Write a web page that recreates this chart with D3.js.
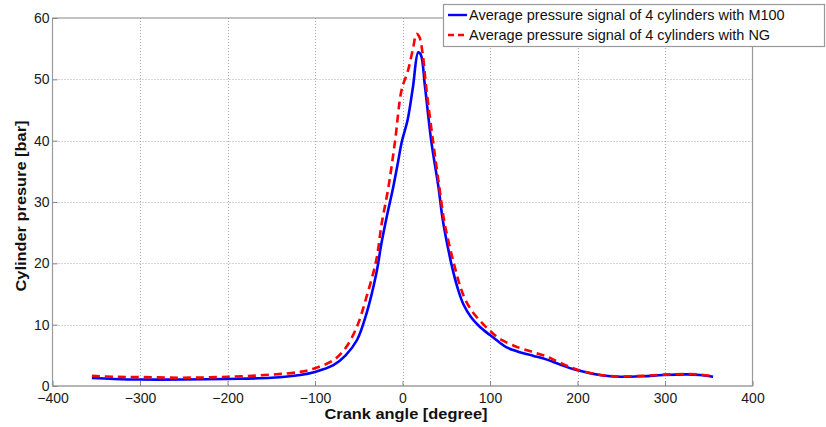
<!DOCTYPE html>
<html>
<head>
<meta charset="utf-8">
<script src="https://cdn.jsdelivr.net/npm/d3@7"></script>
<style>
  html, body { margin: 0; padding: 0; background: #fff; }
  svg { display: block; font-family: "Liberation Sans", Arial, sans-serif; }
</style>
</head>
<body>
<svg id="chart" width="826" height="427"></svg>
<script>
// ---- data ----
const xTicks = [-400, -300, -200, -100, 0, 100, 200, 300, 400];
const yTicks = [0, 10, 20, 30, 40, 50, 60];

const angleM100 = [-355, -330, -300, -250, -200, -150, -117, -100, -79, -65, -52, -41, -30, -24, -18, -10.5, -5, -1, 6, 12, 18, 21, 25.7, 33, 41, 46, 52, 58, 64, 70, 78, 88, 100, 111, 119, 134, 150, 165, 180, 199, 229, 249, 275, 298, 325, 340, 355];
const pressureM100 = [1.3, 1.15, 1.05, 1.05, 1.15, 1.35, 1.8, 2.3, 3.4, 5.0, 7.5, 11.9, 18.3, 23.3, 27.6, 32.5, 36.6, 39.7, 43.5, 48.8, 54.4, 54.0, 48.8, 39.8, 32.5, 27.1, 22.5, 18.6, 15.5, 13.2, 11.3, 9.7, 8.3, 7.1, 6.3, 5.5, 4.9, 4.3, 3.5, 2.6, 1.7, 1.5, 1.6, 1.8, 1.9, 1.8, 1.5];

const angleNG = [-355, -330, -300, -250, -200, -150, -117, -100, -79, -65, -52, -41, -30, -24, -16, -8.6, -1, 6, 12, 16, 19, 23, 27, 35, 42, 47.4, 53, 59, 65, 71, 79, 90, 100, 111, 134, 150, 165, 180, 199, 229, 249, 275, 298, 325, 340, 355];
const pressureNG = [1.65, 1.5, 1.45, 1.35, 1.5, 1.85, 2.3, 2.9, 4.2, 6.2, 9.7, 14.6, 20.5, 26.3, 32.5, 39.8, 48.3, 51.3, 55.0, 57.4, 57.0, 54.2, 48.8, 39.8, 32.5, 27.1, 23.3, 19.8, 16.7, 14.3, 12.3, 10.4, 9.0, 7.7, 6.2, 5.5, 4.8, 3.8, 2.7, 1.75, 1.55, 1.65, 1.85, 1.95, 1.85, 1.6];

const legendLabels = ["Average pressure signal of 4 cylinders with M100", "Average pressure signal of 4 cylinders with NG"];

// ---- layout ----
const svg = d3.select("#chart");
const L = 52.5, R = 752.5, T = 18, B = 386;
const x = d3.scaleLinear().domain([-400, 400]).range([L, R]);
const y = d3.scaleLinear().domain([0, 60]).range([B, T]);

// grid
const grid = svg.append("g");
grid.selectAll(".gx").data(xTicks.slice(1, -1)).enter().append("line")
  .attr("x1", d => Math.round(x(d)) + 0.5).attr("x2", d => Math.round(x(d)) + 0.5)
  .attr("y1", T).attr("y2", B)
  .attr("stroke", "#a8a8a8").attr("stroke-width", 1).attr("stroke-dasharray", "1,2");
grid.selectAll(".gy").data(yTicks.slice(1, -1)).enter().append("line")
  .attr("x1", L).attr("x2", R)
  .attr("y1", d => Math.round(y(d)) + 0.5).attr("y2", d => Math.round(y(d)) + 0.5)
  .attr("stroke", "#a8a8a8").attr("stroke-width", 1).attr("stroke-dasharray", "1,2");

// frame
svg.append("rect").attr("x", L).attr("y", T).attr("width", R - L).attr("height", B - T)
  .attr("fill", "none").attr("stroke", "#9a9a9a").attr("stroke-width", 1.2);
svg.append("line").attr("x1", L).attr("x2", R).attr("y1", B).attr("y2", B)
  .attr("stroke", "#b5b5b5").attr("stroke-width", 2);

// axes via d3
const xAxis = d3.axisBottom(x).tickValues(xTicks).tickSize(-5).tickPadding(7).tickFormat(d3.format("d"));
const gx = svg.append("g").attr("transform", `translate(0,${B})`).call(xAxis);
gx.select(".domain").remove();
gx.selectAll(".tick line").attr("stroke", "#888");
gx.selectAll(".tick text").attr("font-size", 14).attr("fill", "#1a1a1a")
  .attr("font-family", "Liberation Sans, Arial, sans-serif");

const yAxis = d3.axisLeft(y).tickValues(yTicks).tickSize(-5).tickPadding(3).tickFormat(d3.format("d"));
const gy = svg.append("g").attr("transform", `translate(${L},0)`).call(yAxis);
gy.select(".domain").remove();
gy.selectAll(".tick line").attr("stroke", "#888");
gy.selectAll(".tick text").attr("font-size", 14).attr("fill", "#1a1a1a")
  .attr("font-family", "Liberation Sans, Arial, sans-serif");

// axis titles
svg.append("text").attr("x", 406).attr("y", 419).attr("text-anchor", "middle")
  .attr("font-size", 14.5).attr("font-weight", "bold").attr("fill", "#111")
  .attr("textLength", 163).attr("lengthAdjust", "spacingAndGlyphs")
  .text("Crank angle [degree]");
svg.append("text").attr("transform", "translate(26,206) rotate(-90)").attr("text-anchor", "middle")
  .attr("font-size", 14.5).attr("font-weight", "bold").attr("fill", "#111")
  .attr("textLength", 171).attr("lengthAdjust", "spacingAndGlyphs")
  .text("Cylinder presure [bar]");

// lines
const line = d3.line().x(d => x(d[0])).y(d => y(d[1])).curve(d3.curveCatmullRom.alpha(0.5));
const m100 = angleM100.map((a, i) => [a, pressureM100[i]]);
const ng = angleNG.map((a, i) => [a, pressureNG[i]]);
svg.append("path").datum(m100).attr("d", line).attr("fill", "none")
  .attr("stroke", "#0000ff").attr("stroke-width", 2.6).attr("stroke-linejoin", "round");
svg.append("path").datum(ng).attr("d", line).attr("fill", "none")
  .attr("stroke", "#ff0000").attr("stroke-width", 2.6).attr("stroke-dasharray", "8,5");

// legend
const lg = svg.append("g");
lg.append("rect").attr("x", 443.5).attr("y", 4.5).attr("width", 381).attr("height", 42)
  .attr("fill", "#fff").attr("stroke", "#999").attr("stroke-width", 1.2);
const styles = [{ c: "#0000ff", dash: null }, { c: "#ff0000", dash: "6,4" }];
legendLabels.forEach((lab, i) => {
  const cy = 15 + i * 20;
  lg.append("line").attr("x1", 448).attr("x2", 467).attr("y1", cy).attr("y2", cy)
    .attr("stroke", styles[i].c).attr("stroke-width", 2.4)
    .attr("stroke-dasharray", styles[i].dash);
  lg.append("text").attr("x", 469).attr("y", cy + 5).attr("font-size", 14.5).attr("fill", "#111")
    .text(lab);
});
</script>
</body>
</html>
